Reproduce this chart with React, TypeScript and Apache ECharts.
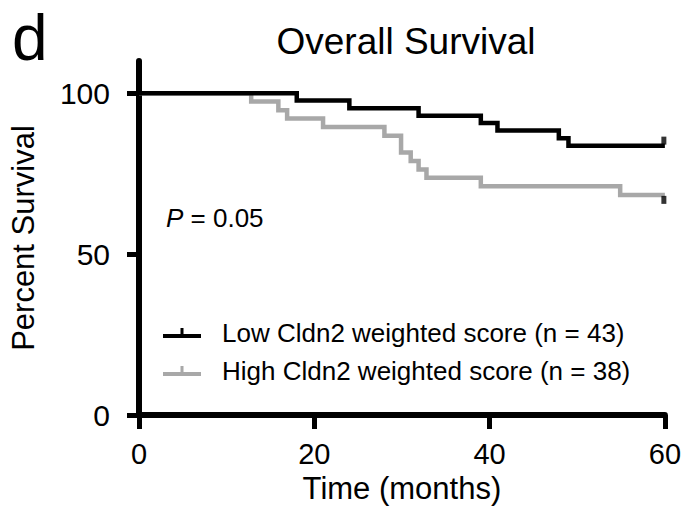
import React, { useEffect, useRef } from 'react';
import * as echarts from 'echarts';

const lowTimes = [0, 18.0, 24.0, 31.9, 39.0, 40.9, 47.9, 49.0, 60];
const lowSurvival = [100, 97.7, 95.3, 93.0, 90.7, 88.4, 86.0, 83.7, 83.7];
const highTimes = [0, 12.8, 15.9, 16.9, 21.0, 28.0, 29.9, 31.0, 31.9, 32.8, 39.0, 54.9, 60];
const highSurvival = [100, 97.4, 94.7, 92.1, 89.5, 86.8, 81.6, 78.9, 76.3, 73.7, 71.1, 68.4, 68.4];
const xTicks = [0, 20, 40, 60];
const yTicks = [0, 50, 100];
const seriesNames = ['Low Cldn2 weighted score (n = 43)', 'High Cldn2 weighted score (n = 38)'];
const titleText = 'Overall Survival';
const xName = 'Time (months)';
const yName = 'Percent Survival';
const panelLetter = 'd';
const pValue = '0.05';

const FONT = '"Liberation Sans", Arial, Helvetica, sans-serif';
const legendIcon = 'path://M0,6 L38,6 L38,10 L0,10 Z M17.5,0 L20.5,0 L20.5,6 L17.5,6 Z';

export default function App() {
  const ref = useRef<HTMLDivElement>(null);
  useEffect(() => {
    if (!ref.current) return;
    const chart = echarts.init(ref.current, null, { renderer: 'svg' });
    const low = lowTimes.map((t, i) => [t, lowSurvival[i]]);
    const high = highTimes.map((t, i) => [t, highSurvival[i]]);
    const lastLow = low[low.length - 1];
    const lastHigh = high[high.length - 1];
    chart.setOption({
      animation: false,
      textStyle: { fontFamily: FONT },
      title: {
        text: titleText,
        left: 401,
        top: 18,
        textAlign: 'center',
        textStyle: { fontSize: 37, fontWeight: 'normal', color: '#000', fontFamily: FONT },
      },
      grid: { left: 137, right: 18, top: 61, bottom: 104, containLabel: false },
      legend: {
        orient: 'vertical',
        left: 158,
        top: 315,
        itemWidth: 38,
        itemHeight: 10,
        itemGap: 12,
        icon: legendIcon,
        data: seriesNames,
        textStyle: { fontSize: 26, color: '#000', fontFamily: FONT, padding: [0, 0, 0, 16] },
      },
      xAxis: {
        type: 'value',
        min: 0,
        max: 60,
        interval: 20,
        name: xName,
        nameLocation: 'middle',
        nameGap: 57,
        nameTextStyle: { fontSize: 31, color: '#000', fontFamily: FONT },
        axisLine: { show: true, onZero: false, lineStyle: { color: '#000', width: 6 } },
        axisTick: { show: true, length: 14, lineStyle: { color: '#000', width: 5 }, customValues: xTicks },
        axisLabel: { fontSize: 29, color: '#000', margin: 24, fontFamily: FONT, customValues: xTicks },
        splitLine: { show: false },
      },
      yAxis: {
        type: 'value',
        min: 0,
        max: 110,
        interval: 50,
        name: yName,
        nameLocation: 'middle',
        nameGap: 100,
        nameTextStyle: { fontSize: 31, color: '#000', fontFamily: FONT },
        axisLine: { show: true, onZero: false, lineStyle: { color: '#000', width: 6 } },
        axisTick: { show: true, length: 12, lineStyle: { color: '#000', width: 5 }, customValues: yTicks },
        axisLabel: { fontSize: 30, color: '#000', margin: 29, fontFamily: FONT, customValues: yTicks },
        splitLine: { show: false },
      },
      series: [
        {
          name: seriesNames[0],
          type: 'line',
          step: 'end',
          data: low,
          showSymbol: false,
          symbol: 'none',
          color: '#000',
          lineStyle: { color: '#000', width: 4.5, join: 'miter', cap: 'butt' },
          z: 3,
        },
        {
          name: seriesNames[1],
          type: 'line',
          step: 'end',
          data: high,
          showSymbol: false,
          symbol: 'none',
          color: '#a8a8a8',
          lineStyle: { color: '#a8a8a8', width: 4.5, join: 'miter', cap: 'butt' },
          z: 2,
        },
        {
          name: 'censor-low',
          type: 'scatter',
          data: [lastLow],
          symbol: 'rect',
          symbolSize: [5, 8],
          symbolOffset: [-1, -5],
          itemStyle: { color: '#000' },
          z: 4,
        },
        {
          name: 'censor-high',
          type: 'scatter',
          data: [lastHigh],
          symbol: 'rect',
          symbolSize: [5, 8],
          symbolOffset: [-1, 5],
          itemStyle: { color: '#000' },
          z: 4,
        },
      ],
      graphic: [
        {
          type: 'text',
          left: 12,
          top: 6,
          style: { text: panelLetter, fontSize: 64, fill: '#000', fontFamily: FONT },
        },
        {
          type: 'text',
          left: 166,
          top: 205,
          style: {
            text: '{i|P} = ' + pValue,
            fontSize: 26,
            fill: '#000',
            fontFamily: FONT,
            rich: { i: { fontStyle: 'italic', fontSize: 26, fontFamily: FONT, fill: '#000' } },
          },
        },
      ],
    });
    return () => chart.dispose();
  }, []);
  return <div ref={ref} style={{ position: 'fixed', left: 0, top: 0, width: 684, height: 519, background: '#fff' }} />;
}
